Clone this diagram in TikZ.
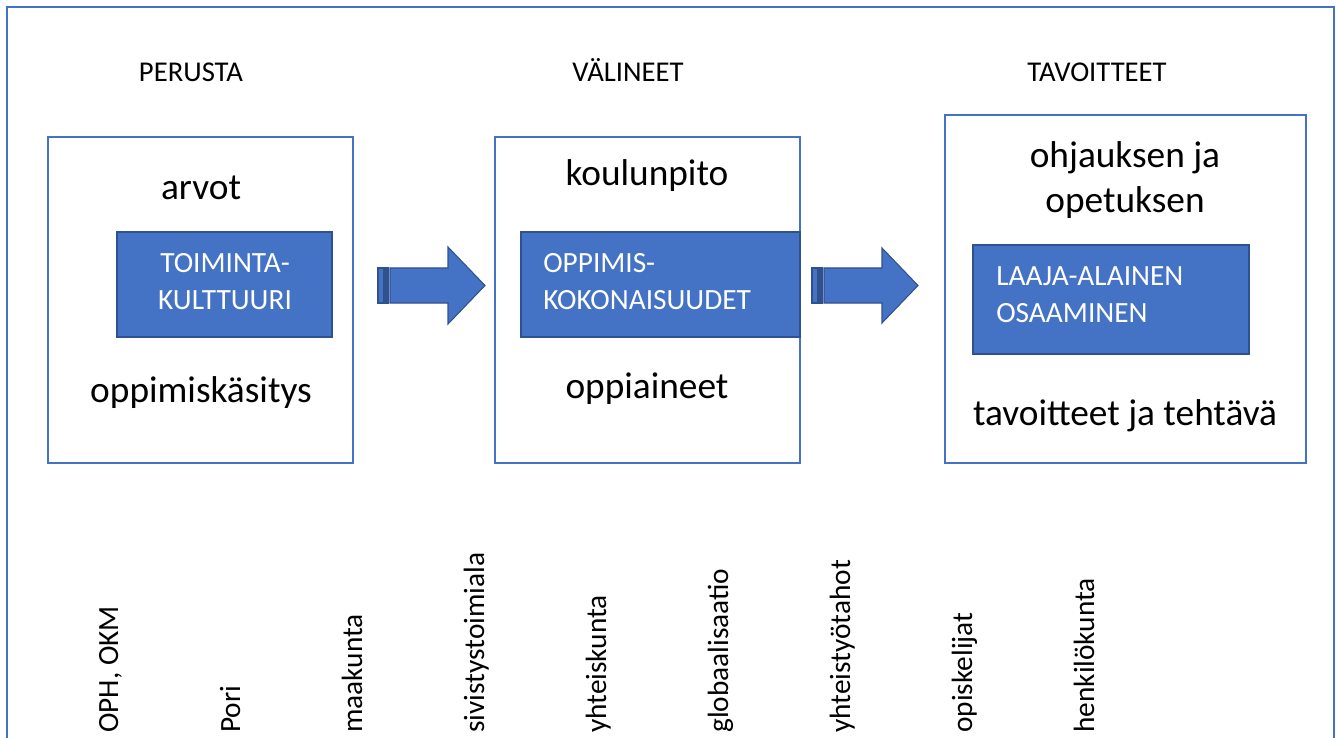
\documentclass[tikz,border=0pt]{standalone}
\usepackage{fontspec}
\setmainfont{Carlito}
\usetikzlibrary{positioning,fit}
\definecolor{officeblue}{HTML}{4472C4}
\definecolor{officeedge}{HTML}{2F528F}
\tikzset{
  panel/.style={draw=officeblue,line width=1.5pt,inner sep=0pt},
  tag/.style={draw=officeedge,fill=officeblue,line width=1pt,inner sep=0pt},
  heading/.style={inner sep=0pt,anchor=base,font=\fontsize{21.5}{25}\selectfont},
  big/.style={inner sep=0pt,anchor=base,font=\fontsize{28}{34}\selectfont},
  tagtext/.style={inner sep=0pt,text=white,font=\fontsize{22}{27.75}\selectfont},
  actor/.style={inner sep=0pt,rotate=90,anchor=base west,font=\fontsize{22}{26}\selectfont},
  blockarrow/.style={fill=officeblue,draw=officeedge,line width=0.8pt,line join=miter}
}

\begin{document}
\begin{tikzpicture}[x=0.75pt,y=-0.75pt]
  \useasboundingbox (0,0) rectangle (1336,738);
  \clip (0,0) rectangle (1336,738);
  % outer frame, cut at the bottom
  \draw[officeblue,line width=2.2pt] (7,760) -- (7,7) -- (1334,7) -- (1334,760);

  % headings
  \node[heading] (h1) at (191,82) {PERUSTA};
  \node[heading] (h2) at (628,82) {VÄLINEET};
  \node[heading] (h3) at (1097,82) {TAVOITTEET};

  % the three panels
  \node[panel,fit={(48,137) (353,463)}] (perusta) {};
  \node[panel,fit={(495,137) (800,463)}] (valineet) {};
  \node[panel,fit={(945,115) (1306,463)}] (tavoitteet) {};

  \node[tag,fit={(117,232) (332,337)}] (kulttuuri) {};
  \node[tag,fit={(521,232) (800,337)}] (kokonaisuudet) {};
  \node[tag,fit={(973,245) (1249,354)}] (osaaminen) {};

  \node[tagtext,align=center] (t1) at (225,281.5) {TOIMINTA-\\KULTTUURI};
  \node[tagtext,align=left,anchor=west] (t2) at (543,282) {OPPIMIS-\\KOKONAISUUDET};
  \node[tagtext,align=left,anchor=west] (t3) at (996,295) {LAAJA-ALAINEN\\OSAAMINEN};

  \node[big] (arvot) at (201,200) {arvot};
  \node[big] (kasitys) at (201,402) {oppimiskäsitys};
  \node[big] (koulunpito) at (647,186) {koulunpito};
  \node[big] (oppiaineet) at (647,398) {oppiaineet};
  \node[big] (ohjaus) at (1125,168) {ohjauksen ja};
  \node[big] (opetus) at (1125,213) {opetuksen};
  \node[big] (tehtava) at (1125,425) {tavoitteet ja tehtävä};

  % striped block arrows
  \draw[blockarrow] (378,268) rectangle (384,303);
  \draw[blockarrow] (386,268) rectangle (388,303);
  \draw[blockarrow] (390,268) -- (448,268) -- (448,247) -- (485,285.5)
    -- (448,324) -- (448,303) -- (390,303) -- cycle;
  \draw[blockarrow] (812,268) rectangle (818,303);
  \draw[blockarrow] (820,268) rectangle (822,303);
  \draw[blockarrow] (824,268) -- (882,268) -- (882,248) -- (918,285.5)
    -- (882,323) -- (882,303) -- (824,303) -- cycle;

  % rotated labels along the bottom
  \node[actor] (a1) at (118,733) {OPH, OKM};
  \node[actor] (a2) at (240,733) {Pori};
  \node[actor] (a3) at (362,733) {maakunta};
  \node[actor] (a4) at (484,733) {sivistystoimiala};
  \node[actor] (a5) at (606,733) {yhteiskunta};
  \node[actor] (a6) at (728,733) {globaalisaatio};
  \node[actor] (a7) at (850,733) {yhteistyötahot};
  \node[actor] (a8) at (972,733) {opiskelijat};
  \node[actor] (a9) at (1094,733) {henkilökunta};
\end{tikzpicture}
\end{document}
